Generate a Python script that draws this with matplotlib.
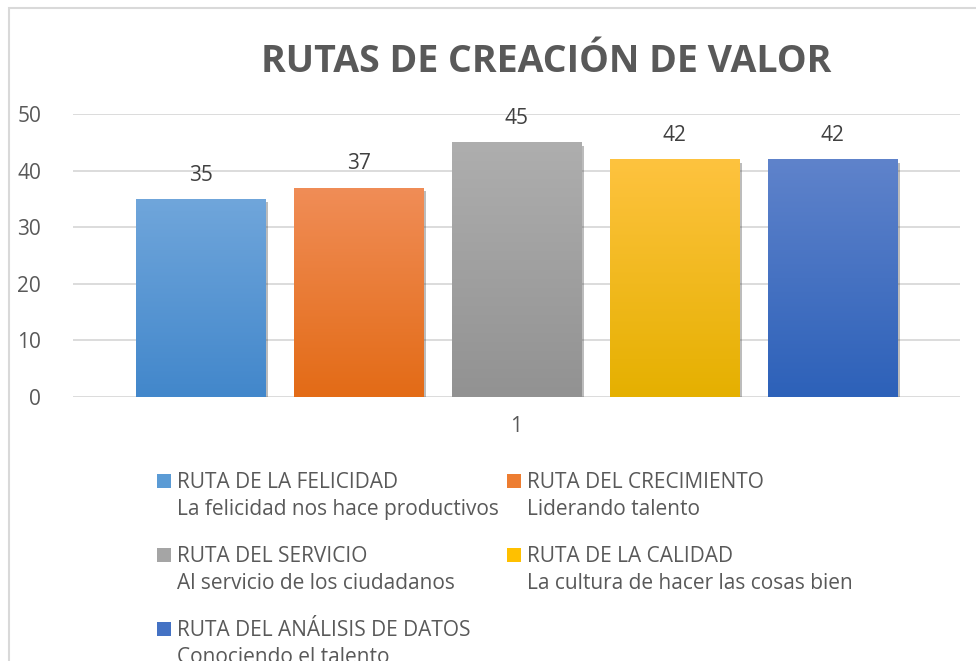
import numpy as np
import matplotlib
matplotlib.use("Agg")
import matplotlib.pyplot as plt
from matplotlib import font_manager
from matplotlib.colors import LinearSegmentedColormap
from matplotlib.patches import Rectangle
import matplotlib.patheffects as pe

# data
series = [
    "RUTA DE LA FELICIDAD",
    "RUTA DEL CRECIMIENTO",
    "RUTA DEL SERVICIO",
    "RUTA DE LA CALIDAD",
    "RUTA DEL ANÁLISIS DE DATOS",
]
subtitles = [
    "La felicidad nos hace productivos",
    "Liderando talento",
    "Al servicio de los ciudadanos",
    "La cultura de hacer las cosas bien",
    "Conociendo el talento",
]
values = [35, 37, 45, 42, 42]
category = "1"
# (top, bottom) gradient colours per bar
grad_colors = [
    ("#70A6DB", "#4287CB"),
    ("#F08D57", "#E36B16"),
    ("#AEAEAE", "#929292"),
    ("#FEC33F", "#E5B000"),
    ("#5F83CB", "#2D61B9"),
]
legend_colors = ["#5B9BD5", "#ED7D31", "#A5A5A5", "#FFC000", "#4472C4"]

installed = {f.name for f in font_manager.fontManager.ttflist}
FONT = "Liberation Sans Narrow" if "Liberation Sans Narrow" in installed else "Open Sans"
plt.rcParams["font.family"] = [FONT, "DejaVu Sans"]

W, H = 976, 661
fig = plt.figure(figsize=(W / 100, H / 100), dpi=100)


def fx(px):
    return px / W


def fy(py):
    return 1 - py / H


# chart border (left and top visible, rest runs off the image)
fig.patches.append(Rectangle((fx(8.5), -0.1), 1.2, fy(7.5) + 0.1,
                             transform=fig.transFigure, fill=False,
                             edgecolor="#D9D9D9", lw=1.5))

ax = fig.add_axes([fx(73), fy(397), 887 / W, 283 / H])

step, width = 0.158, 0.130
xs = [(i - (len(values) - 1) / 2) * step for i in range(len(values))]

grad = np.linspace(0, 1, 256).reshape(-1, 1)
for x, v, (ctop, cbot) in zip(xs, values, grad_colors):
    bar = ax.bar(x, v, width=width, color=cbot, zorder=3,
                 path_effects=[pe.SimplePatchShadow(offset=(1.5, -2.5), alpha=0.35,
                                                    shadow_rgbFace="#404040"),
                               pe.Normal()])[0]
    cmap = LinearSegmentedColormap.from_list("g", [cbot, ctop])
    im = ax.imshow(grad, cmap=cmap, aspect="auto", origin="lower",
                   extent=(x - width / 2, x + width / 2, 0, v), zorder=4)
    im.set_clip_path(bar)
    ax.text(x, v + 3.2, str(v), ha="center", va="baseline", fontsize=15,
            color="#404040", zorder=5)

ax.set_xlim(-0.4435, 0.4435)
ax.set_ylim(0, 50)
ax.set_yticks(range(0, 51, 10))
ax.set_xticks([0])
ax.set_xticklabels([category])
ax.grid(axis="y", color="#D9D9D9", lw=1.3, zorder=0)
ax.tick_params(length=0, labelsize=15, labelcolor="#595959")
ax.tick_params(axis="x", pad=14)
ax.tick_params(axis="y", pad=23)
for s in ax.spines.values():
    s.set_visible(False)
ax.set_aspect("auto")

fig.text(fx(546), fy(72), "RUTAS DE CREACIÓN DE VALOR", ha="center",
         va="baseline", fontsize=27, fontweight="bold", color="#595959")

# legend, two columns, marker aligned with first line
col_x = [157, 507]
row_base = [488, 562, 636]
for i, (name, sub, col) in enumerate(zip(series, subtitles, legend_colors)):
    cx, by = col_x[i % 2], row_base[i // 2]
    fig.patches.append(Rectangle((fx(cx), fy(by)), 14 / W, 14 / H,
                                 transform=fig.transFigure,
                                 facecolor=col, edgecolor="none"))
    fig.text(fx(cx + 20), fy(by), name, ha="left", va="baseline",
             fontsize=15, color="#595959")
    fig.text(fx(cx + 20), fy(by + 27), sub, ha="left", va="baseline",
             fontsize=15, color="#595959")

fig.savefig("out.png", dpi=100)
